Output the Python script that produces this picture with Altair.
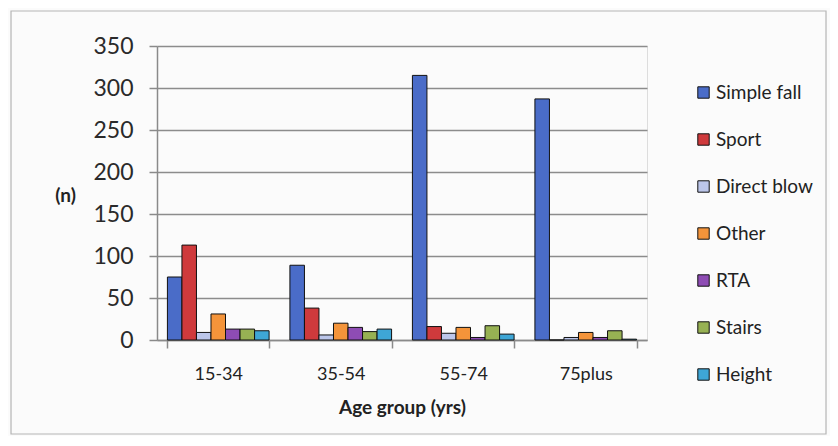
import altair as alt
import pandas as pd

age_groups = ["15-34", "35-54", "55-74", "75plus"]
causes = ["Simple fall", "Sport", "Direct blow", "Other", "RTA", "Stairs", "Height"]
colors = ["#4a6cc8", "#cf3a3c", "#bcc6ea", "#f4943a", "#8e4cb4", "#97b153", "#3ea6d6"]

simple_fall = [75, 89, 315, 287]
sport = [113, 38, 16, 0]
direct_blow = [9, 6, 8, 3]
other = [31, 20, 15, 9]
rta = [13, 15, 3, 3]
stairs = [13, 10, 17, 11]
height = [11, 13, 7, 1]

series = [simple_fall, sport, direct_blow, other, rta, stairs, height]
rows = []
for cause, vals in zip(causes, series):
    for age, v in zip(age_groups, vals):
        rows.append({"age": age, "cause": cause, "n": v})
df = pd.DataFrame(rows)

FONT = "Lato"

frame = alt.Chart(pd.DataFrame({"d": [0]})).mark_rect(
    fillOpacity=0, stroke="#b5b5b5", strokeWidth=1.2
).encode(
    x=alt.value(-146), x2=alt.value(669), y=alt.value(-35), y2=alt.value(388)
)

bars = alt.Chart(df).mark_bar(stroke="#111111", strokeWidth=1).encode(
    x=alt.X("age:N", sort=age_groups,
            scale=alt.Scale(paddingInner=0.17, paddingOuter=0.085),
            axis=alt.Axis(title="Age group (yrs)", labelAngle=0, tickBand="extent",
                          tickSize=8, labelPadding=17, titlePadding=15,
                          domainColor="#8a8a8a", tickColor="#8a8a8a",
                          domainWidth=1.5, tickWidth=1.5,
                          labelFontSize=18, titleFontSize=19, titleFontWeight="bold",
                          labelColor="#222222", titleColor="#222222")),
    xOffset=alt.XOffset("cause:N", sort=causes, scale=alt.Scale(paddingInner=0, paddingOuter=0)),
    y=alt.Y("n:Q", scale=alt.Scale(domain=[0, 350], nice=False),
            axis=alt.Axis(values=[0, 50, 100, 150, 200, 250, 300, 350], title="(n)",
                          titleAngle=0, titleX=-92, titleY=149, titleAlign="center",
                          titleBaseline="middle", titleFontSize=19, titleFontWeight="bold",
                          tickSize=8, labelPadding=16, labelFontSize=23,
                          domainColor="#8a8a8a", tickColor="#8a8a8a",
                          domainWidth=1.5, tickWidth=1.5,
                          gridColor="#8c8c8c", gridWidth=1.5,
                          labelColor="#2a2a2a", titleColor="#222222")),
    color=alt.Color("cause:N", sort=causes,
                    scale=alt.Scale(domain=causes, range=colors),
                    legend=alt.Legend(title=None, orient="none", legendX=537, legendY=37,
                                      symbolType="square", symbolSize=130,
                                      symbolStrokeColor="#111111", symbolStrokeWidth=1,
                                      labelFontSize=19, rowPadding=27, labelOffset=3,
                                      labelColor="#222222")),
)

chart = alt.layer(bars, frame).properties(
    width=490, height=294,
    autosize=alt.AutoSizeParams(type="none"),
    padding={"left": 149, "top": 38, "right": 183, "bottom": 96},
    background="#fbfbfb",
).configure_view(stroke=None, fill="#e9eff8").configure(font=FONT)

chart.save("out.html", embed_options={"renderer": "svg", "actions": False})
